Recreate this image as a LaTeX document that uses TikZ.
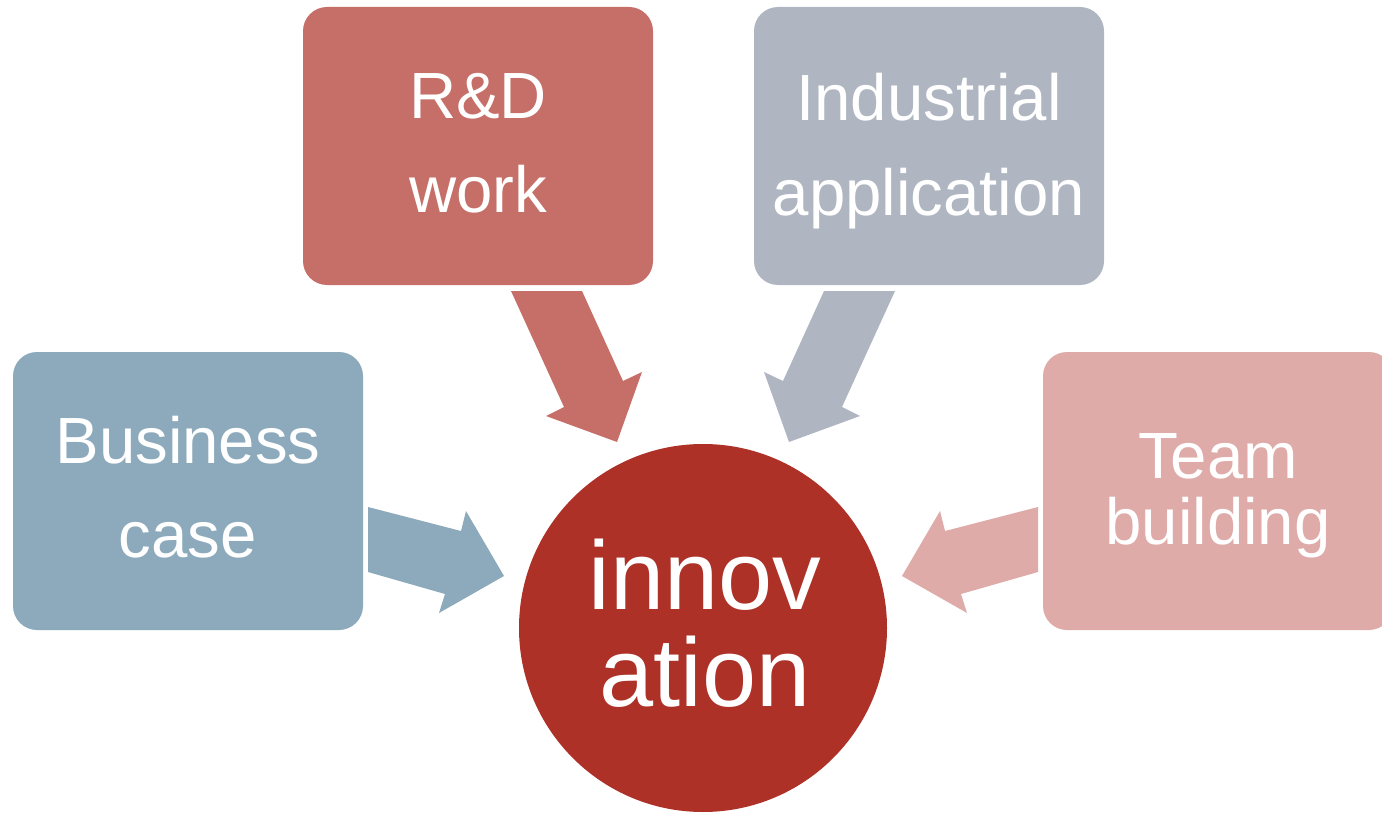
\documentclass[tikz,border=0pt]{standalone}
\usepackage{fontspec}
\setmainfont{Liberation Sans}
\definecolor{rdcol}{RGB}{198,110,104}
\definecolor{indcol}{RGB}{175,182,193}
\definecolor{buscol}{RGB}{141,170,188}
\definecolor{teamcol}{RGB}{222,171,169}
\definecolor{inncol}{RGB}{174,49,40}
\begin{document}
\begin{tikzpicture}[x=0.75pt,y=-0.75pt,
  boxshape/.style={rectangle, rounded corners=18pt, minimum width=262.5pt, minimum height=208.5pt, draw=none, inner sep=0pt},
  boxtext/.style={text=white, align=center, anchor=base, inner sep=0pt, font=\fontsize{49}{70.5}\selectfont}]
\useasboundingbox (0,0) rectangle (1382,813);
\clip (0,0) rectangle (1382,813);
% boxes
\node[boxshape, fill=rdcol] (rd) at (478,146) {};
\node[boxshape, fill=indcol] (ind) at (929,146) {};
\node[boxshape, fill=buscol] (bus) at (188,491) {};
\node[boxshape, fill=teamcol] (team) at (1218,491) {};
\node[circle, fill=inncol, minimum size=276pt, inner sep=0pt] (inn) at (703,628) {};
% arrows
\fill[rdcol] (511,291) -- (582,291) -- (623,381) -- (642,372) -- (617,442) -- (546,416) -- (564,407) -- cycle;
\fill[indcol] (895,291) -- (824,291) -- (783,381) -- (764,372) -- (789,442) -- (860,416) -- (842,407) -- cycle;
\fill[buscol] (368,507) -- (461,531) -- (466,511) -- (504,576) -- (439,613) -- (445,594) -- (368,572) -- cycle;
\fill[teamcol] (1038,507) -- (945,531) -- (940,511) -- (902,576) -- (967,613) -- (961,594) -- (1038,572) -- cycle;
% texts (anchored at the baseline of the last line)
\node[boxtext] (rdt) at (478,213) {R\&D\\work};
\node[boxtext] (indt) at (929,215) {Industrial\\application};
\node[boxtext] (bust) at (188,557) {Business\\case};
\node[boxtext, font=\fontsize{49}{49.5}\selectfont] (teamt) at (1218,544) {Team\\building};
\node[boxtext, font=\fontsize{73}{72.75}\selectfont] (innt) at (705,706) {innov\\ation};
\end{tikzpicture}
\end{document}
